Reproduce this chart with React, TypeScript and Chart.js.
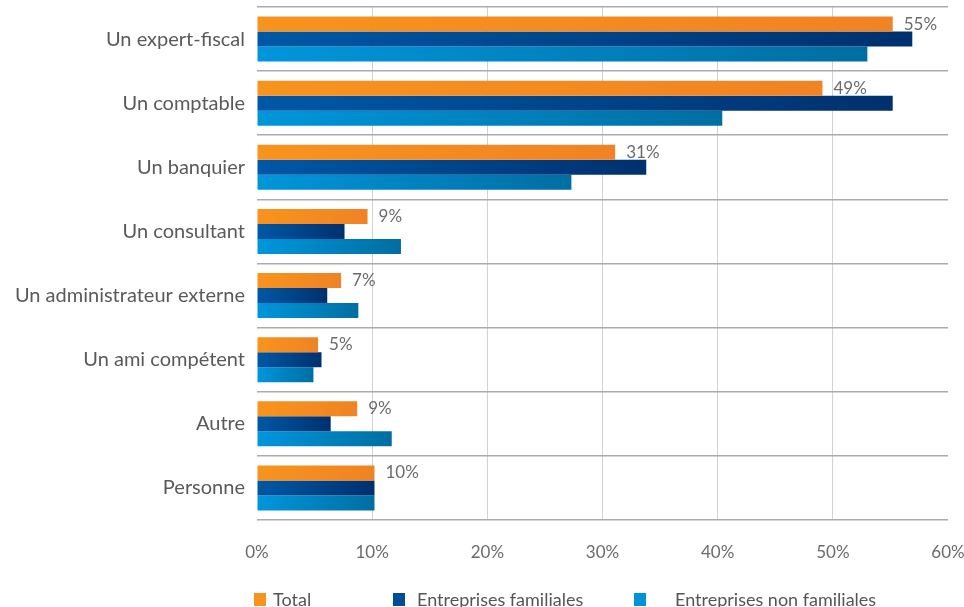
import React, { useEffect, useRef } from "react";
import { Chart, registerables } from "chart.js";

Chart.register(...registerables);

const categories = [
  "Un expert-fiscal",
  "Un comptable",
  "Un banquier",
  "Un consultant",
  "Un administrateur externe",
  "Un ami compétent",
  "Autre",
  "Personne",
];
const seriesNames = ["Total", "Entreprises familiales", "Entreprises non familiales"];
const totalValues = [55.2, 49.1, 31.1, 9.6, 7.3, 5.3, 8.7, 10.2];
const familyValues = [56.9, 55.2, 33.8, 7.6, 6.1, 5.6, 6.4, 10.2];
const nonFamilyValues = [53.0, 40.4, 27.3, 12.5, 8.8, 4.9, 11.7, 10.2];
const totalLabels = ["55%", "49%", "31%", "9%", "7%", "5%", "9%", "10%"];
const xTicks = [0, 10, 20, 30, 40, 50, 60];

const FONT = "Lato, 'Open Sans', sans-serif";
const gradStops = [
  ["#F7941D", "#F08324"],
  ["#0058A6", "#00306E"],
  ["#0096DC", "#006EA2"],
];
const legendColors = ["#F7941D", "#004C97", "#0092D6"];

const makeGradient = (c0: string, c1: string) => (ctx: any) => {
  const chart = ctx.chart;
  const xs = chart.scales?.x;
  if (!xs || ctx.type !== "data") return c0;
  const x0 = xs.getPixelForValue(0);
  const x1 = xs.getPixelForValue(ctx.raw as number);
  if (!isFinite(x0) || !isFinite(x1) || Math.abs(x1 - x0) < 1) return c0;
  const g = chart.ctx.createLinearGradient(x0, 0, x1, 0);
  g.addColorStop(0, c0);
  g.addColorStop(1, c1);
  return g;
};

const valueLabelPlugin = {
  id: "valueLabels",
  afterDatasetsDraw(chart: any) {
    const meta = chart.getDatasetMeta(0);
    const c = chart.ctx;
    c.save();
    c.font = `17px ${FONT}`;
    c.fillStyle = "#6b6b6b";
    c.textAlign = "left";
    c.textBaseline = "middle";
    meta.data.forEach((el: any, i: number) => {
      c.fillText(totalLabels[i], el.x + 11, el.y);
    });
    c.restore();
  },
};

export default function App() {
  const ref = useRef<HTMLCanvasElement | null>(null);
  useEffect(() => {
    if (!ref.current) return;
    const data = [totalValues, familyValues, nonFamilyValues];
    const chart = new Chart(ref.current, {
      type: "bar",
      data: {
        labels: categories,
        datasets: data.map((vals, i) => ({
          label: seriesNames[i],
          data: vals,
          backgroundColor: makeGradient(gradStops[i][0], gradStops[i][1]),
          borderWidth: 0,
          categoryPercentage: 0.7,
          barPercentage: 1.0,
        })),
      },
      options: {
        indexAxis: "y",
        animation: false,
        responsive: false,
        layout: { padding: { top: 7, right: 16, left: 0, bottom: 0 } },
        plugins: {
          legend: { display: false },
          tooltip: { enabled: false },
        },
        scales: {
          x: {
            min: 0,
            max: 60,
            afterBuildTicks: (s: any) => {
              s.ticks = xTicks.map((v) => ({ value: v }));
            },
            afterFit: (s: any) => {
              s.paddingLeft = 0;
              s.paddingRight = 0;
              s.height = 87;
            },
            border: { display: false },
            grid: {
              drawTicks: false,
              color: (ctx: any) =>
                ctx.tick && (ctx.tick.value === 0 || ctx.tick.value === 60) ? "rgba(0,0,0,0)" : "#d2d2d2",
              lineWidth: 1,
            },
            ticks: {
              padding: 22,
              color: "#6b6b6b",
              font: { family: FONT, size: 17 },
              callback: (v: any) => `${v}%`,
            },
          },
          y: {
            afterFit: (s: any) => {
              s.width = 257;
              s.paddingTop = 0;
              s.paddingBottom = 0;
            },
            border: { display: false },
            grid: {
              drawTicks: false,
              color: "#ababab",
              lineWidth: 1.6,
              offset: true,
            },
            ticks: {
              padding: 12,
              color: "#5a5a5a",
              font: { family: FONT, size: 20 },
            },
          },
        },
      },
      plugins: [valueLabelPlugin],
    } as any);
    return () => chart.destroy();
  }, []);

  const legendBoxX = [254, 393, 634];
  const legendTextGap = [19, 24, 41];

  return (
    <div
      style={{
        position: "fixed",
        left: 0,
        top: 0,
        width: 964,
        height: 607,
        overflow: "hidden",
        background: "#fff",
      }}
    >
      <canvas ref={ref} width={964} height={607} style={{ display: "block" }} />
      {seriesNames.map((name, i) => (
        <div
          key={name}
          style={{
            position: "absolute",
            left: legendBoxX[i],
            top: 588,
            display: "flex",
            alignItems: "center",
            fontFamily: FONT,
            fontSize: 18,
            color: "#555",
            whiteSpace: "nowrap",
          }}
        >
          <span
            style={{
              display: "inline-block",
              width: 12,
              height: 13,
              background: legendColors[i],
              marginRight: legendTextGap[i] - 12,
            }}
          />
          <span>{name}</span>
        </div>
      ))}
    </div>
  );
}
